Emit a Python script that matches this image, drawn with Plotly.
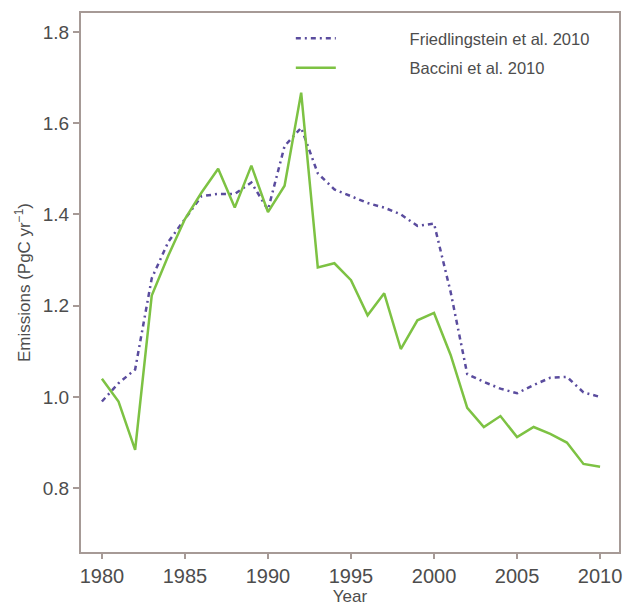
import plotly.graph_objects as go

years = list(range(1980, 2011))

friedlingstein = [0.99, 1.03, 1.06, 1.26, 1.34, 1.39, 1.44, 1.445, 1.445, 1.47,
                  1.41, 1.55, 1.59, 1.49, 1.455, 1.44, 1.425, 1.415, 1.40, 1.375,
                  1.38, 1.23, 1.05, 1.033, 1.018, 1.008, 1.026, 1.042, 1.044, 1.01,
                  1.0]

baccini = [1.04, 0.99, 0.884, 1.222, 1.31, 1.39, 1.448, 1.50, 1.415, 1.507,
           1.405, 1.463, 1.667, 1.284, 1.293, 1.256, 1.179, 1.227, 1.105, 1.168,
           1.184, 1.092, 0.976, 0.934, 0.958, 0.912, 0.934, 0.919, 0.90, 0.853,
           0.847]

x_ticks = [1980, 1985, 1990, 1995, 2000, 2005, 2010]
y_ticks = [0.8, 1.0, 1.2, 1.4, 1.6, 1.8]

axis_color = "#a69a96"
text_color = "#4d4d4d"
font_family = "Liberation Sans, Arial, sans-serif"

# legend labels are pushed away from their line samples with no-break spaces
pad = "\u00a0" * 15

fig = go.Figure()
fig.add_trace(go.Scatter(
    x=years, y=friedlingstein, mode="lines", name=pad + "Friedlingstein et al. 2010",
    legendgroup="f",
    line=dict(color="#5a4c9e", width=2.5, dash="5px,4px,2px,4px"),
))
fig.add_trace(go.Scatter(
    x=years, y=baccini, mode="lines", name=pad + "Baccini et al. 2010",
    legendgroup="b",
    line=dict(color="#7dc243", width=2.5),
))

fig.update_layout(
    width=628, height=608,
    margin=dict(l=81, r=6, t=13, b=55),
    paper_bgcolor="white", plot_bgcolor="white",
    font=dict(family=font_family, color=text_color, size=19),
    showlegend=True,
    legend=dict(
        x=0.39, y=0.985, xanchor="left", yanchor="top",
        bgcolor="rgba(255,255,255,0)",
        font=dict(size=16.5, color=text_color),
        itemwidth=40, traceorder="grouped", tracegroupgap=5,
    ),
)

fig.update_xaxes(
    range=[1978.74, 2011.14], tickvals=x_ticks, ticktext=[str(v) for v in x_ticks],
    showgrid=False, zeroline=False,
    showline=True, linecolor=axis_color, linewidth=2, mirror=True,
    ticks="outside", ticklen=5, tickcolor=axis_color, tickwidth=1.5,
    tickfont=dict(size=20, color=text_color),
    title=dict(text="Year", font=dict(size=17, color=text_color), standoff=3),
)
fig.update_yaxes(
    range=[0.66, 1.8416], tickvals=y_ticks, ticktext=[f"{v:.1f}" for v in y_ticks],
    showgrid=False, zeroline=False,
    showline=True, linecolor=axis_color, linewidth=2, mirror=True,
    ticks="outside", ticklen=6, tickcolor=axis_color, tickwidth=1.5,
    tickfont=dict(size=19, color=text_color),
    title=dict(text="Emissions (PgC yr<sup>−1</sup>)", font=dict(size=17, color=text_color), standoff=8),
)

fig.write_html("out.html")
